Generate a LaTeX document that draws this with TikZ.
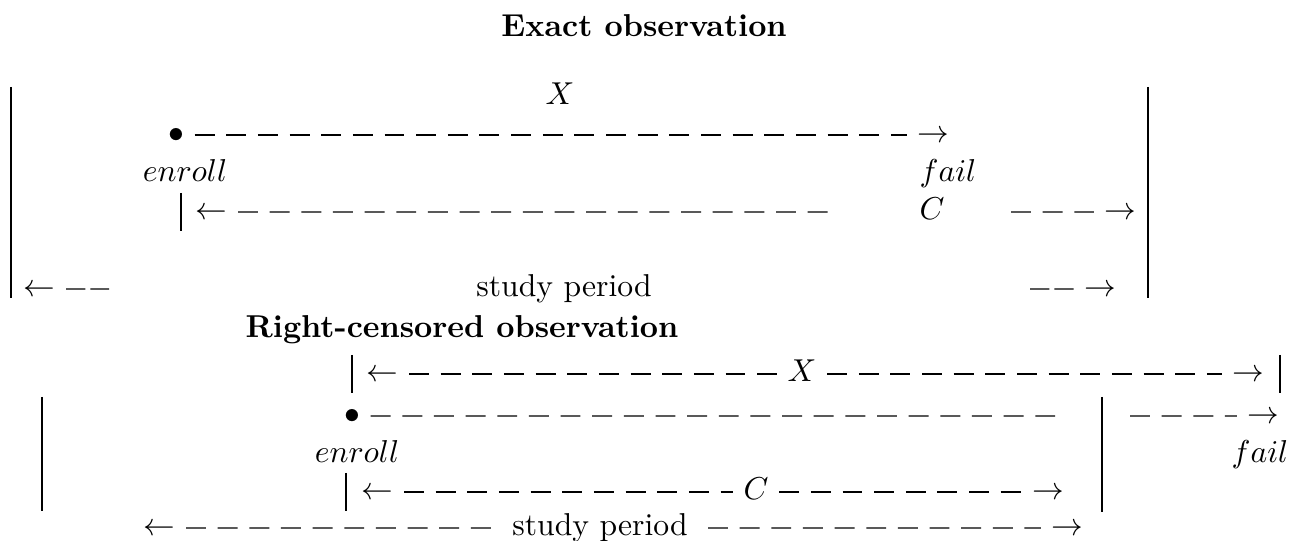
\documentclass[tikz,border=0pt]{standalone}
\usepackage{amsmath}
\usepackage{amssymb}
\usetikzlibrary{calc}

\tikzset{
  lbl/.style={inner sep=0pt, anchor=base},
  glyph/.style={inner sep=0pt, text height=5pt, text depth=0pt},
  ttl/.style={inner sep=0pt, anchor=base, font=\bfseries},
  dashrule/.style={line width=0.4pt, dash pattern=on 6.3pt off 3.7pt, shorten <=3.2pt, shorten >=3.2pt},
  tightrule/.style={line width=0.4pt, dash pattern=on 6.1pt off 1.6pt, shorten <=3.2pt, shorten >=3.2pt},
  bar/.style={line width=0.4pt},
  bigbar/.style={line width=0.45pt}
}

\begin{document}
\begin{tikzpicture}[x=0.316pt,y=-0.316pt]
\useasboundingbox (0,0) rectangle (1291,541);

\node[ttl] (exact) at (644,37) {Exact observation};
\draw[bigbar] (11,87) -- (11,298);
\draw[bigbar] (1148,87) -- (1148,298);
\node[lbl] (xA) at (560,105) {$X$};
\node[glyph, anchor=base] (dotA) at (176,143) {$\bullet$};
\node[glyph, anchor=base east] (arrXA) at (950,143) {$\rightarrow$};
\draw[dashrule] (dotA) -- (arrXA);
\node[lbl] (enrollA) at (185,182) {$enroll$};
\node[lbl] (failA) at (948,182) {$fail$};
\draw[bar] (181,193) -- (181,231);
\node[glyph, anchor=base west] (arrCA) at (195,220) {$\leftarrow$};
\coordinate (cA1) at (835,212);
\draw[dashrule, shorten >=0pt] (arrCA) -- (cA1);
\node[lbl] (cA) at (932,220) {$C$};
\coordinate (cA2) at (1011,212);
\node[glyph, anchor=base east] (arrCA2) at (1137,220) {$\rightarrow$};
\draw[dashrule, shorten <=0pt] (cA2) -- (arrCA2);
\node[glyph, anchor=base west] (arrSA) at (23,297) {$\leftarrow$};
\coordinate (sA1) at (109,289);
\draw[tightrule, shorten >=0pt] (arrSA) -- (sA1);
\node[lbl] (studyA) at (564,297) {study period};
\coordinate (sA2) at (1030,289);
\node[glyph, anchor=base east] (arrSA2) at (1117,297) {$\rightarrow$};
\draw[tightrule, shorten <=0pt] (sA2) -- (arrSA2);

\node[ttl] (cens) at (462,338) {Right-censored observation};
\draw[bigbar] (42,397) -- (42,511);
\draw[bigbar] (1102,397) -- (1102,512);
\draw[bar] (352,355) -- (352,393);
\node[glyph, anchor=base west] (arrXB) at (366,382) {$\leftarrow$};
\node[glyph, anchor=base] (xB) at (802,382) {$X$};
\node[glyph, anchor=base east] (arrXB2) at (1265,382) {$\rightarrow$};
\draw[dashrule] (arrXB) -- (xB);
\draw[dashrule] (xB) -- (arrXB2);
\draw[bar] (1280,355) -- (1280,393);
\node[glyph, anchor=base] (dotB) at (352,424) {$\bullet$};
\coordinate (dB1) at (1062,416);
\draw[dashrule, shorten >=0pt] (dotB) -- (dB1);
\coordinate (dB2) at (1130,416);
\node[glyph, anchor=base east] (arrB) at (1280,424) {$\rightarrow$};
\draw[dashrule, shorten <=0pt] (dB2) -- (arrB);
\node[lbl] (enrollB) at (357,463) {$enroll$};
\node[lbl] (failB) at (1260,463) {$fail$};
\draw[bar] (346,473) -- (346,511);
\node[glyph, anchor=base west] (arrCB) at (361,500) {$\leftarrow$};
\node[glyph, anchor=base] (cB) at (756,500) {$C$};
\node[glyph, anchor=base east] (arrCB2) at (1065,500) {$\rightarrow$};
\draw[dashrule] (arrCB) -- (cB);
\draw[dashrule] (cB) -- (arrCB2);
\node[glyph, anchor=base west] (arrSB) at (143,536) {$\leftarrow$};
\coordinate (sB1) at (492,528);
\draw[dashrule, shorten >=0pt] (arrSB) -- (sB1);
\node[lbl] (studyB) at (600,536) {study period};
\coordinate (sB2) at (708,528);
\node[glyph, anchor=base east] (arrSB2) at (1084,536) {$\rightarrow$};
\draw[dashrule, shorten <=0pt] (sB2) -- (arrSB2);
\end{tikzpicture}
\end{document}
